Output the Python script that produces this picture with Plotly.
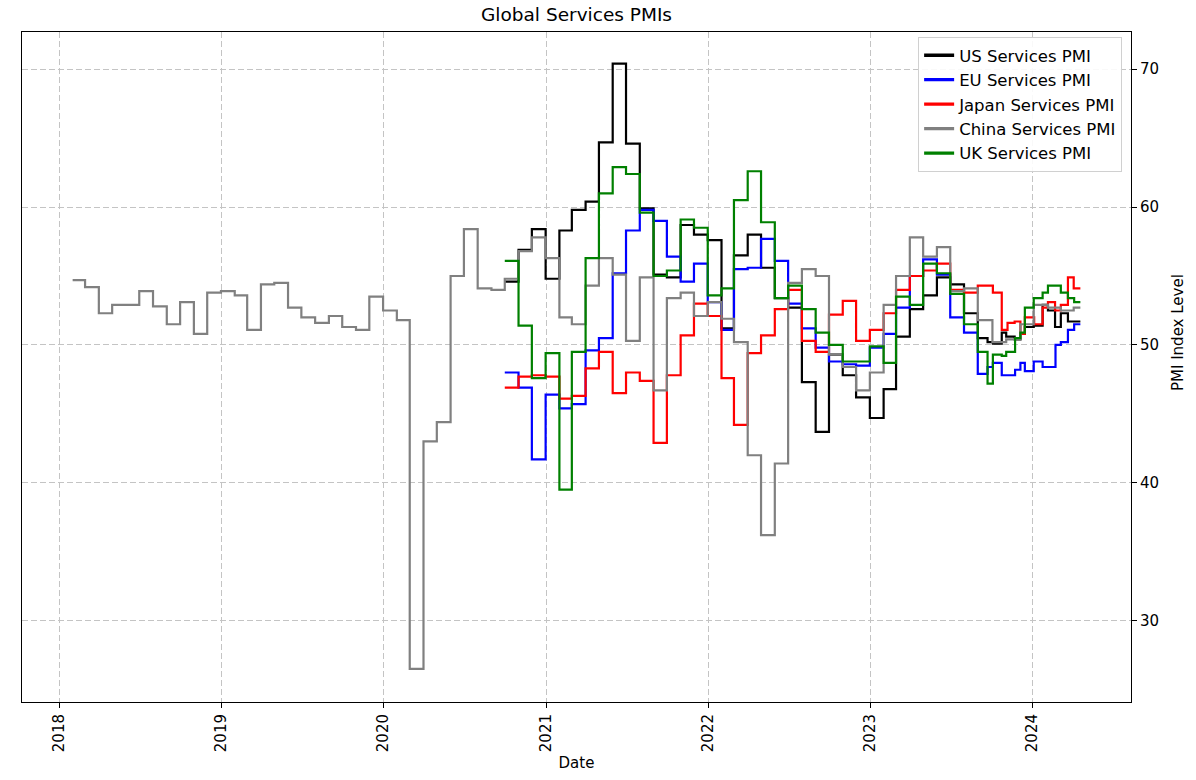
import pandas as pd
import plotly.graph_objects as go

# ---------------- data ----------------
# Monthly readings, each dated at month end
china_start = "2018-01-01"
china_monthly = [
    54.7, 54.2, 52.3, 52.9, 52.9, 53.9, 52.8, 51.5, 53.1, 50.8, 53.8, 53.9,   # 2018
    53.6, 51.1, 54.4, 54.5, 52.7, 52.0, 51.6, 52.1, 51.3, 51.1, 53.5, 52.5,   # 2019
    51.8, 26.5, 43.0, 44.4, 55.0, 58.4, 54.1, 54.0, 54.8, 56.8, 57.8, 56.3,   # 2020
    52.0, 51.5, 54.3, 56.3, 55.1, 50.3, 54.9, 46.7, 53.4, 53.8, 52.1, 53.1,   # 2021
    51.9, 50.2, 42.0, 36.2, 41.4, 54.5, 55.5, 55.0, 49.3, 48.4, 46.7, 48.0,   # 2022
    52.9, 55.0, 57.8, 56.4, 57.1, 53.9, 54.1, 51.8,                           # 2023
]

others_start = "2020-09-01"
us_monthly = [
    54.6, 56.9, 58.4, 54.8,
    58.3, 59.8, 60.4, 64.7, 70.4, 64.6, 59.9, 55.1, 54.9, 58.7, 58.0, 57.6,
    51.2, 56.5, 58.0, 55.6, 53.4, 52.7, 47.3, 43.7, 49.3, 47.8, 46.2, 44.7,
    46.8, 50.6, 52.6, 53.6, 54.9, 54.4, 52.3, 50.5,
]
eu_monthly = [
    48.0, 46.9, 41.7, 46.4,
    45.4, 45.7, 49.6, 50.5, 55.2, 58.3, 59.8, 59.0, 56.4, 54.6, 55.9, 53.1,
    51.1, 55.5, 55.6, 57.7, 56.1, 53.0, 51.2, 49.8, 48.8, 48.6, 48.5, 49.8,
    50.8, 52.7, 55.0, 56.2, 55.1, 52.0, 50.9, 47.9,
]
japan_monthly = [
    46.9, 47.7, 47.8, 47.7,
    46.1, 46.3, 48.3, 49.5, 46.5, 48.0, 47.4, 42.9, 47.8, 50.7, 53.0, 52.1,
    47.6, 44.2, 49.4, 50.7, 52.6, 54.0, 50.3, 49.5, 52.2, 53.2, 50.3, 51.1,
    52.3, 54.0, 55.0, 55.4, 55.9, 54.0, 53.8, 54.3,
]
uk_monthly = [
    56.1, 51.4, 47.6, 49.4,
    39.5, 49.5, 56.3, 61.0, 62.9, 62.4, 59.6, 55.0, 55.4, 59.1, 58.5, 53.6,
    54.1, 60.5, 62.6, 58.9, 53.4, 54.3, 52.6, 50.9, 50.0, 48.8, 48.8, 49.9,
    48.7, 53.5, 52.9, 55.9, 55.2, 53.7, 51.5, 49.5,
]

# Later readings, dated at their release (flash and final)
us_tail_dates = ["2023-09-22", "2023-10-04", "2023-10-24", "2023-11-03", "2023-11-22",
                 "2023-12-05", "2023-12-15", "2024-01-04", "2024-01-24", "2024-02-05",
                 "2024-02-21", "2024-03-05", "2024-03-21", "2024-04-03"]
us_tail = [50.2, 50.1, 50.9, 50.6, 50.4, 50.8, 51.3, 51.4, 52.9, 52.5, 51.3, 52.3, 51.7, 51.7]

eu_tail_dates = ["2023-09-22", "2023-10-04", "2023-10-24", "2023-11-06", "2023-11-23",
                 "2023-12-05", "2023-12-15", "2024-01-04", "2024-01-24", "2024-02-05",
                 "2024-02-22", "2024-03-05", "2024-03-21", "2024-04-04"]
eu_tail = [48.4, 48.7, 47.8, 47.8, 48.2, 48.7, 48.1, 48.8, 48.4, 48.4, 50.0, 50.2, 51.1, 51.5]

japan_tail_dates = ["2023-10-04", "2023-10-24", "2023-11-06", "2023-11-22",
                    "2023-12-05", "2023-12-15", "2024-01-05", "2024-01-24", "2024-02-05",
                    "2024-02-21", "2024-03-05", "2024-03-21", "2024-04-03"]
japan_tail = [53.8, 51.1, 51.6, 51.7, 50.8, 52.0, 51.5, 52.7, 53.1, 52.5, 52.9, 54.9, 54.1]

china_tail_dates = ["2023-10-03", "2023-11-03", "2023-12-05", "2024-01-04", "2024-02-05",
                    "2024-03-05", "2024-04-03"]
china_tail = [50.2, 50.4, 51.5, 52.9, 52.7, 52.5, 52.7]

uk_tail_dates = ["2023-09-22", "2023-10-04", "2023-10-24", "2023-11-03", "2023-11-23",
                 "2023-12-05", "2023-12-15", "2024-01-04", "2024-01-24", "2024-02-05",
                 "2024-02-22", "2024-03-05", "2024-03-21", "2024-04-04"]
uk_tail = [47.2, 49.3, 49.2, 49.5, 50.5, 50.9, 52.7, 53.4, 53.8, 54.3, 54.3, 53.8, 53.4, 53.1]

last_obs_date = "2024-04-18"   # series are carried to this date

x_ticks = ["2018-01-01", "2019-01-01", "2020-01-01", "2021-01-01",
           "2022-01-01", "2023-01-01", "2024-01-01"]
x_tick_labels = ["2018", "2019", "2020", "2021", "2022", "2023", "2024"]
y_ticks = [30, 40, 50, 60, 70]


def build(start, monthly, tail_dates, tail_vals):
    month_ends = pd.date_range(start, periods=len(monthly), freq="MS") + pd.offsets.MonthEnd(0)
    x = list(month_ends) + list(pd.to_datetime(tail_dates)) + [pd.Timestamp(last_obs_date)]
    y = list(monthly) + list(tail_vals) + [tail_vals[-1]]
    return x, y


series = [
    ("US Services PMI", "#000000", build(others_start, us_monthly, us_tail_dates, us_tail)),
    ("EU Services PMI", "#0000ff", build(others_start, eu_monthly, eu_tail_dates, eu_tail)),
    ("Japan Services PMI", "#ff0000", build(others_start, japan_monthly, japan_tail_dates, japan_tail)),
    ("China Services PMI", "#808080", build(china_start, china_monthly, china_tail_dates, china_tail)),
    ("UK Services PMI", "#008000", build(others_start, uk_monthly, uk_tail_dates, uk_tail)),
]

FONT = "DejaVu Sans"
fig = go.Figure()
for name, color, (x, y) in series:
    fig.add_trace(go.Scatter(x=x, y=y, mode="lines", name=name, showlegend=False,
                             line=dict(color=color, width=2.2, shape="hv")))
# legend handles (thicker lines like the original legend)
for name, color, _ in series:
    fig.add_trace(go.Scatter(x=[None], y=[None], mode="lines", name=name,
                             line=dict(color=color, width=3.3)))

grid = dict(showgrid=True, gridcolor="#c4c4c4", gridwidth=1, griddash="6px,3px")
fig.update_layout(
    width=1196, height=780,
    margin=dict(l=22, r=65, t=32, b=78),
    paper_bgcolor="white", plot_bgcolor="white",
    font=dict(family=FONT, size=15, color="black"),
    title=dict(text="Global Services PMIs", x=0.5, xref="paper", xanchor="center",
               y=1 - 15 / 780, yref="container", yanchor="middle",
               font=dict(family=FONT, size=18.5, color="black")),
    xaxis=dict(type="date", range=["2017-10-09", "2024-08-10"],
               tickvals=x_ticks, ticktext=x_tick_labels, tickangle=-90,
               ticks="outside", ticklen=5, tickcolor="black",
               showline=True, linecolor="black", linewidth=1, mirror=True,
               zeroline=False,
               title=dict(text="Date", standoff=6, font=dict(size=15)), **grid),
    yaxis=dict(side="right", range=[24.1, 72.7], tickvals=y_ticks,
               ticks="outside", ticklen=5, tickcolor="black",
               showline=True, linecolor="black", linewidth=1, mirror=True,
               zeroline=False, **grid),
    legend=dict(x=0.992, y=(702 - 37) / 670, xanchor="right", yanchor="top",
                bgcolor="rgba(255,255,255,0.9)", bordercolor="#d0d0d0", borderwidth=1,
                font=dict(family=FONT, size=16.5), tracegroupgap=0),
    annotations=[dict(text="PMI Index Level", textangle=-90, showarrow=False,
                      xref="paper", yref="paper", x=(1178 - 22) / 1109, y=(702 - 333) / 670,
                      xanchor="center", yanchor="middle", font=dict(family=FONT, size=15))],
)

fig.write_html("out.html")
